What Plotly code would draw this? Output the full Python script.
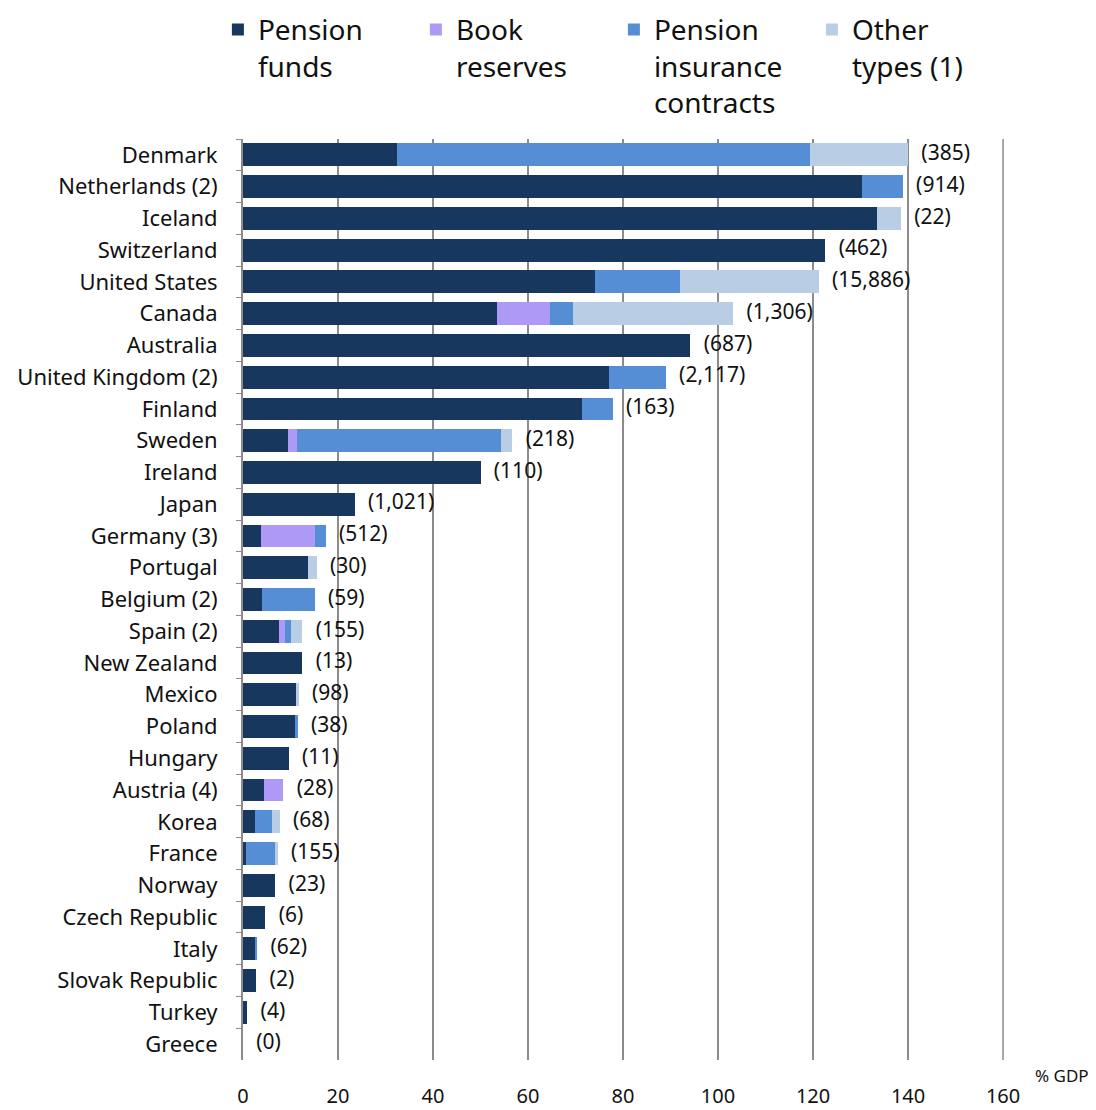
import plotly.graph_objects as go

countries = [
    "Denmark", "Netherlands (2)", "Iceland", "Switzerland", "United States",
    "Canada", "Australia", "United Kingdom (2)", "Finland", "Sweden",
    "Ireland", "Japan", "Germany (3)", "Portugal", "Belgium (2)",
    "Spain (2)", "New Zealand", "Mexico", "Poland", "Hungary",
    "Austria (4)", "Korea", "France", "Norway", "Czech Republic",
    "Italy", "Slovak Republic", "Turkey", "Greece",
]

# % of GDP by type of vehicle
pension_funds = [32.5, 130.4, 133.5, 122.6, 74.0, 53.4, 94.2, 77.0, 71.3, 9.4,
                 50.0, 23.5, 3.7, 13.6, 4.1, 7.5, 12.5, 11.3, 11.1, 9.6,
                 4.5, 2.6, 0.7, 6.8, 4.7, 2.6, 2.8, 0.9, 0.0]
book_reserves = [0, 0, 0, 0, 0, 11.3, 0, 0, 0, 1.9,
                 0, 0, 11.4, 0, 0, 1.4, 0, 0, 0, 0,
                 4.0, 0, 0, 0, 0, 0, 0, 0, 0]
insurance_contracts = [86.8, 8.5, 0, 0, 17.9, 4.8, 0, 12.0, 6.5, 43.1,
                       0, 0, 2.3, 0, 11.0, 1.3, 0, 0, 0.4, 0,
                       0, 3.4, 6.1, 0, 0, 0.4, 0, 0, 0]
other_types = [20.7, 0, 5.0, 0, 29.3, 33.7, 0, 0, 0, 2.3,
               0, 0, 0, 1.9, 0, 2.3, 0, 0.4, 0, 0,
               0, 1.7, 0.5, 0, 0, 0, 0, 0, 0]
# total assets, USD billion
assets_usd_bn = ["(385)", "(914)", "(22)", "(462)", "(15,886)", "(1,306)", "(687)",
                 "(2,117)", "(163)", "(218)", "(110)", "(1,021)", "(512)", "(30)",
                 "(59)", "(155)", "(13)", "(98)", "(38)", "(11)", "(28)", "(68)",
                 "(155)", "(23)", "(6)", "(62)", "(2)", "(4)", "(0)"]

FONT = "Noto Sans"
X_MAX = 160
series = [
    ("Pension<br>funds", pension_funds, "#17375E"),
    ("Book<br>reserves", book_reserves, "#AE9AF6"),
    ("Pension<br>insurance<br>contracts", insurance_contracts, "#558ED5"),
    ("Other<br>types (1)", other_types, "#B9CDE5"),
]

fig = go.Figure()
for name, vals, col in series:
    fig.add_trace(go.Bar(
        y=countries, x=vals, name=name, orientation="h",
        marker=dict(color=col, line=dict(width=0)),
        width=0.72,
    ))

totals = [sum(v) for v in zip(pension_funds, book_reserves, insurance_contracts, other_types)]
fig.add_trace(go.Scatter(
    y=countries, x=[t + 2.8 for t in totals], mode="text",
    text=assets_usd_bn, textposition="middle right",
    textfont=dict(family=FONT, size=21, color="#111"),
    showlegend=False, hoverinfo="skip", cliponaxis=False,
))

# plotly drops the gridline that sits on the range edge, so draw it
fig.add_shape(type="line", xref="x", yref="paper", x0=X_MAX, x1=X_MAX, y0=0, y1=1,
              line=dict(color="#8c8c8c", width=1.5), layer="below")

fig.add_annotation(
    text="% GDP", xref="paper", yref="paper", x=1.1145, y=-0.0163,
    xanchor="right", yanchor="middle", showarrow=False,
    font=dict(family=FONT, size=17, color="#111"),
)

# the page body adds an 8px offset, so the figure is sized to fit the window
fig.update_layout(
    width=1088, height=1102,
    barmode="stack",
    plot_bgcolor="white", paper_bgcolor="white",
    margin=dict(l=235, r=92, t=131, b=50, autoexpand=False),
    font=dict(family=FONT, color="#111"),
    legend=dict(
        orientation="h", x=-0.033, y=1.1457, xanchor="left", yanchor="top",
        font=dict(family=FONT, size=28, color="#111"),
        valign="top", itemclick=False, traceorder="normal",
        entrywidth=153,
    ),
    xaxis=dict(
        range=[0, X_MAX + 0.2], tickvals=[0, 20, 40, 60, 80, 100, 120, 140, 160],
        showgrid=True, gridcolor="#8c8c8c", gridwidth=1.5,
        zeroline=False, showline=False, ticks="", automargin=False,
        tickfont=dict(family=FONT, size=20, color="#111"),
        ticklabelstandoff=22,
    ),
    yaxis=dict(
        range=[len(countries) - 0.5, -0.5], showline=True, linecolor="#8c8c8c", linewidth=2,
        ticks="outside", tickson="boundaries", ticklen=5, tickcolor="#8c8c8c",
        tickfont=dict(family=FONT, size=22, color="#111"), automargin=False,
        ticklabelstandoff=19,
    ),
)

fig.write_html("out.html")
